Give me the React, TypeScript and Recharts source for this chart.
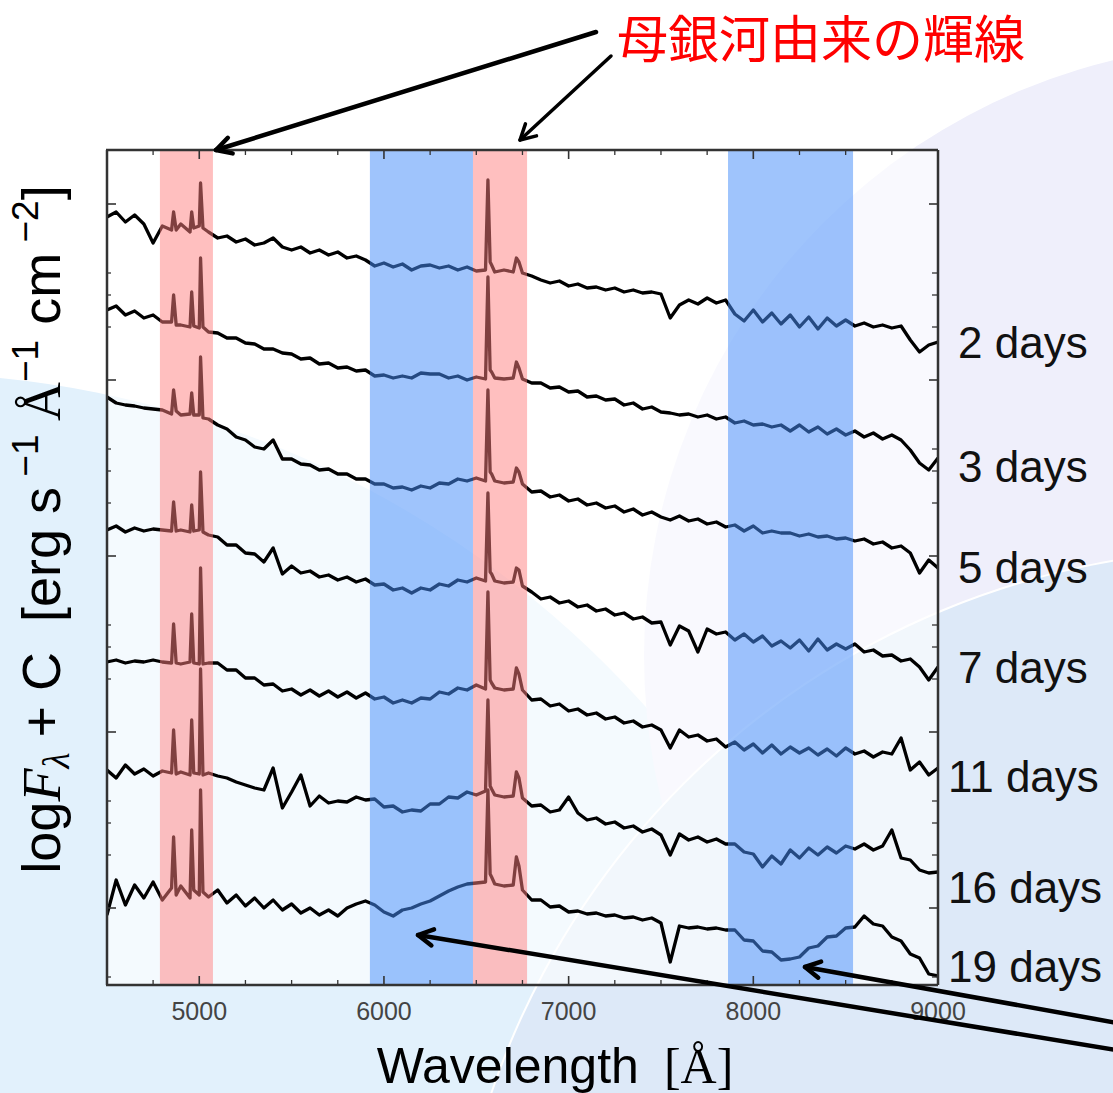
import React from 'react';
import { LineChart, Line, XAxis, YAxis, CartesianGrid, ReferenceArea, ReferenceLine, LabelList, Label } from 'recharts';

// wavelength grid (Å) — extra points sit on the host-galaxy emission lines
const WAVELENGTH = [
  4500, 4550, 4600, 4650, 4700, 4750, 4800, 4850, 4861, 4875, 4900, 4950, 4959, 4970, 5000, 5007, 5020, 5050,
  5100, 5150, 5200, 5250, 5300, 5350, 5400, 5450, 5500, 5550, 5600, 5650, 5700, 5750, 5800, 5850, 5900, 5950,
  6000, 6050, 6100, 6150, 6200, 6250, 6300, 6350, 6400, 6450, 6500, 6550,
  6563, 6575, 6583, 6600, 6650, 6700, 6717, 6731,
  6750, 6800, 6850, 6900, 6950, 7000, 7050, 7100, 7150, 7200, 7250, 7300, 7350, 7400, 7450, 7500, 7550, 7600,
  7650, 7700, 7750, 7800, 7850, 7900, 7950, 8000, 8050, 8100, 8150, 8200, 8250, 8300, 8350, 8400, 8450, 8500,
  8550, 8600, 8650, 8700, 8750, 8800, 8850, 8900, 8950, 9000,
];

// log F_lambda + C, arbitrary offset units, one spectrum per epoch
const FLUX_2D = [
  783, 788, 778, 785, 776, 757, 774, 770, 788, 770, 776, 768, 788, 772, 774, 817, 772, 768,
  762, 764, 758, 761, 755, 757, 762, 753, 750, 753, 747, 750, 745, 748, 742, 744, 740, 734, 737, 733, 736, 730, 734, 735, 732, 734, 730, 733, 729, 730,
  820, 738, 735, 728, 730, 728, 742, 738,
  727, 724, 720, 717, 719, 714, 716, 712, 713, 710, 712, 708, 710, 707, 708, 706, 682, 695, 700, 696, 702, 697, 700, 686,
  679, 690, 678, 687, 676, 685, 673, 683, 671, 682, 674, 680, 674, 677, 673, 675, 672, 674, 660, 648, 655, 658,
];
const FLUX_3D = [
  690, 694, 685, 689, 682, 685, 678, 678, 705, 675, 675, 673, 708, 674, 672, 742, 673, 668,
  667, 662, 662, 657, 656, 651, 651, 647, 646, 641, 642, 636, 637, 632, 633, 629, 630, 624, 625, 622, 624, 622, 627, 626, 626, 622, 624, 620, 623, 621,
  723, 630, 628, 622, 621, 622, 638, 632,
  621, 617, 617, 612, 613, 608, 609, 603, 604, 600, 601, 595, 597, 591, 593, 588, 587, 585, 586, 583, 585, 581, 583, 577,
  579, 575, 576, 573, 575, 569, 575, 568, 573, 566, 571, 565, 569, 563, 567, 561, 565, 560, 550, 537, 530, 542,
];
const FLUX_5D = [
  603, 597, 595, 594, 592, 591, 590, 586, 610, 589, 585, 586, 607, 585, 585, 643, 582, 581,
  575, 571, 563, 560, 553, 551, 560, 541, 541, 536, 535, 530, 531, 526, 526, 521, 521, 516, 516, 512, 513, 510, 514, 512, 517, 516, 521, 519, 522, 519,
  610, 528, 526, 519, 517, 518, 532, 528,
  516, 508, 509, 503, 505, 499, 501, 495, 497, 492, 494, 488, 491, 485, 488, 483, 480, 484, 479, 481, 476, 478, 473, 475,
  469, 474, 467, 469, 467, 467, 464, 466, 463, 464, 461, 462, 459, 461, 456, 458, 452, 454, 447, 427, 440, 432,
];
const FLUX_7D = [
  470, 474, 468, 472, 469, 471, 470, 469, 498, 469, 470, 468, 495, 469, 470, 528, 468, 465,
  463, 455, 455, 447, 446, 438, 452, 426, 434, 427, 429, 423, 425, 420, 423, 418, 421, 415, 416, 410, 412, 407, 412, 410, 416, 414, 420, 418, 422, 419,
  507, 428, 426, 419, 417, 418, 432, 430,
  414, 408, 401, 403, 397, 399, 393, 395, 389, 391, 385, 387, 381, 383, 377, 378, 355, 374, 369, 348, 371, 366, 368, 360,
  366, 358, 364, 354, 359, 352, 360, 349, 361, 350, 356, 351, 356, 348, 350, 344, 345, 339, 341, 333, 320, 333,
];
const FLUX_11D = [
  338, 340, 337, 339, 338, 340, 338, 337, 376, 337, 336, 338, 386, 337, 336, 432, 336, 337,
  337, 330, 330, 322, 322, 315, 316, 309, 311, 305, 310, 304, 309, 303, 308, 302, 307, 301, 303, 297, 300, 297, 302, 301, 308, 306, 312, 310, 315, 311,
  408, 320, 317, 312, 310, 311, 332, 326,
  310, 300, 301, 294, 296, 289, 291, 285, 287, 281, 283, 277, 279, 273, 275, 270, 252, 270, 263, 265, 259, 261, 253, 258,
  250, 256, 247, 255, 246, 253, 247, 252, 245, 251, 244, 252, 246, 249, 243, 248, 246, 262, 230, 238, 225, 232,
];
const FLUX_16D = [
  230, 222, 235, 226, 231, 224, 229, 227, 270, 226, 228, 225, 280, 227, 226, 331, 225, 227,
  224, 222, 218, 215, 212, 210, 232, 192, 208, 225, 194, 204, 197, 199, 198, 203, 200, 201, 193, 194, 188, 190, 189, 196, 196, 203, 202, 208, 205, 209,
  300, 214, 211, 205, 203, 204, 228, 222,
  202, 194, 195, 188, 190, 203, 187, 180, 182, 176, 178, 172, 174, 168, 171, 165, 145, 166, 160, 163, 158, 161, 156, 156,
  148, 146, 133, 144, 136, 150, 142, 152, 145, 153, 147, 154, 151, 156, 150, 154, 170, 142, 140, 130, 127, 128,
];
const FLUX_19D = [
  85, 120, 95, 115, 102, 118, 100, 112, 163, 105, 114, 102, 170, 110, 105, 210, 108, 103,
  110, 97, 105, 94, 102, 92, 100, 90, 96, 87, 92, 85, 90, 84, 92, 96, 99, 95, 88, 84, 90, 92, 96, 99, 104, 109, 113, 116, 117, 118,
  210, 126, 123, 116, 114, 115, 143, 134,
  110, 100, 100, 93, 94, 88, 89, 86, 87, 84, 85, 82, 83, 80, 82, 77, 38, 74, 72, 73, 71, 72, 70, 70,
  60, 59, 49, 48, 40, 41, 43, 52, 54, 63, 64, 72, 73, 84, 76, 74, 63, 59, 46, 42, 26, 24,
];

const SERIES = [
  { key: 'd2', label: '2 days', values: FLUX_2D },
  { key: 'd3', label: '3 days', values: FLUX_3D },
  { key: 'd5', label: '5 days', values: FLUX_5D },
  { key: 'd7', label: '7 days', values: FLUX_7D },
  { key: 'd11', label: '11 days', values: FLUX_11D },
  { key: 'd16', label: '16 days', values: FLUX_16D },
  { key: 'd19', label: '19 days', values: FLUX_19D },
];

// shaded wavelength windows
const RED_BANDS = [[4787, 5074], [6482, 6775]];
const BLUE_BANDS = [[5924, 6482], [7863, 8540]];

const X_MAJOR = [5000, 6000, 7000, 8000, 9000];
const X_MINOR = [4750, 5250, 5500, 5750, 6250, 6500, 6750, 7250, 7500, 7750, 8250, 8500, 8750];
const Y_MAJOR = [796, 620, 444, 268, 92];
const Y_MINOR = [727, 705, 673, 551, 529, 497, 375, 353, 321, 199, 177, 145, 23];

// label nudges (dx, dy) from each spectrum's last point
const LABEL_NUDGE = [[20, 16], [20, 24], [20, 15], [20, 16], [10, 24], [10, 31], [10, 6]];

const data = WAVELENGTH.map((wl, i) => {
  const row: Record<string, number> = { wl };
  SERIES.forEach((s) => { row[s.key] = s.values[i]; });
  return row;
});

const SANS = '"Liberation Sans", Arial, Helvetica, sans-serif';
const SERIF = '"Liberation Serif", "Times New Roman", serif';
const AXIS = '#333';
const X_DOMAIN = [4495, 9000];
const Y_DOMAIN = [15, 850];

const endLabel = (k: number) => (props: any) => {
  if (props.index !== WAVELENGTH.length - 1) return null;
  const x = props.x ?? props.viewBox?.x;
  const y = props.y ?? props.viewBox?.y;
  const [dx, dy] = LABEL_NUDGE[k];
  return (
    <text x={x + dx} y={y + dy} fontSize={44} fill="#111" fontFamily={SANS}>
      {SERIES[k].label}
    </text>
  );
};

const XTitle = (props: any) => {
  const vb = props.viewBox;
  return (
    <text x={vb.x + vb.width / 2 + 33} y={vb.y + 98} textAnchor="middle" fontSize={50} fill="#000" fontFamily={SANS}>
      <tspan>Wavelength</tspan>
      <tspan fontFamily={SERIF}>{'\u00a0\u00a0[Å]'}</tspan>
    </text>
  );
};

const YTitle = (props: any) => {
  const vb = props.viewBox;
  const cx = 60;
  const cy = vb.y + vb.height / 2 - 38;
  return (
    <text transform={`rotate(-90 ${cx} ${cy})`} x={cx} y={cy} textAnchor="middle" fontSize={54} fill="#000" fontFamily={SANS}>
      <tspan>log</tspan>
      <tspan fontFamily={SERIF} fontStyle="italic">F</tspan>
      <tspan fontFamily={SERIF} fontStyle="italic" fontSize={37} dy={9}>λ</tspan>
      <tspan dy={-9}>{'\u00a0+ C\u00a0\u00a0[erg s'}</tspan>
      <tspan fontSize={37} dy={-22}>{'\u00a0−1'}</tspan>
      <tspan dy={22} fontFamily={SERIF}>{'\u00a0Å'}</tspan>
      <tspan fontSize={37} dy={-22}>−1</tspan>
      <tspan dy={22}>{'\u00a0cm'}</tspan>
      <tspan fontSize={37} dy={-22}>{'\u00a0−2'}</tspan>
      <tspan dy={22}>]</tspan>
    </text>
  );
};

// annotation arrows (page pixels)
const ARROWS = [
  { from: [596, 32], to: [216, 150], w: 4.5 },
  { from: [611, 56], to: [520, 140], w: 3.5 },
  { from: [1140, 1054], to: [418, 935], w: 4.5 },
  { from: [1140, 1027], to: [805, 967], w: 4.5 },
];

const arrowHead = (from: number[], to: number[], len = 17, ang = 0.5) => {
  const a = Math.atan2(from[1] - to[1], from[0] - to[0]);
  const p1 = [to[0] + len * Math.cos(a + ang), to[1] + len * Math.sin(a + ang)];
  const p2 = [to[0] + len * Math.cos(a - ang), to[1] + len * Math.sin(a - ang)];
  return `M${p1[0]},${p1[1]} L${to[0]},${to[1]} L${p2[0]},${p2[1]}`;
};

const circle = (cx: number, cy: number, r: number, bg: string, extra: React.CSSProperties = {}) => (
  <div style={{ position: 'absolute', left: cx - r, top: cy - r, width: 2 * r, height: 2 * r, borderRadius: '50%', background: bg, ...extra }} />
);

// frame axes: tick marks only, pointing into the plot
const noLabel = () => '';
const tickAxis = {
  tick: { fontSize: 1, fill: 'none' },
  tickFormatter: noLabel,
  interval: 0 as const,
  allowDataOverflow: true,
  mirror: true,
  type: 'number' as const,
};
const majorLine = { stroke: AXIS, strokeWidth: 1.6 };
const minorLine = { stroke: AXIS, strokeWidth: 1.3 };
const frameLine = { stroke: AXIS, strokeWidth: 2.5 };

// inward x tick marks on the top and bottom frame (length in y units, 1 unit ≈ 1 px)
const xTickMarks = [
  ...X_MAJOR.map((t) => ({ t, len: 9, w: 1.6 })),
  ...X_MINOR.map((t) => ({ t, len: 5, w: 1.3 })),
];

export default function App() {
  return (
    <div style={{ position: 'absolute', left: 0, top: 0, width: 1113, height: 1093, overflow: 'hidden', background: '#fff', fontFamily: SANS }}>
      {circle(-100, 1373, 1000, '#e2f1fc')}
      {circle(1257, 656, 613, '#efeffb')}
      {circle(1250, 1350, 800, '#dde9f8', { boxShadow: '0 0 0 2px #fff' })}

      <div style={{ position: 'absolute', left: 0, top: 0 }}>
        <LineChart width={1113} height={1093} data={data} margin={{ top: 150, right: 175, bottom: 78, left: 106 }}>
          <CartesianGrid xAxisId="main" yAxisId="main" horizontal={false} vertical={false} fill="#ffffff" fillOpacity={0.62} />

          <XAxis xAxisId="main" dataKey="wl" type="number" domain={X_DOMAIN} allowDataOverflow ticks={X_MAJOR} interval={0}
            height={30} axisLine={false} tickLine={false} tickSize={0} tickMargin={17}
            tick={{ fill: '#444', fontSize: 25, fontFamily: SANS }}>
            <Label content={XTitle} />
          </XAxis>
          <XAxis xAxisId="bMaj" {...tickAxis} domain={X_DOMAIN} ticks={X_MAJOR} height={1} orientation="bottom"
            tickSize={9} tickLine={majorLine} axisLine={frameLine} />
          <XAxis xAxisId="tMaj" {...tickAxis} domain={X_DOMAIN} ticks={X_MAJOR} height={1} orientation="top"
            tickSize={9} tickLine={majorLine} axisLine={frameLine} />

          <YAxis yAxisId="main" {...tickAxis} domain={Y_DOMAIN} ticks={Y_MAJOR} width={1} orientation="left"
            tickSize={9} tickLine={majorLine} axisLine={frameLine}>
            <Label content={YTitle} />
          </YAxis>
          <YAxis yAxisId="lMin" {...tickAxis} domain={Y_DOMAIN} ticks={Y_MINOR} width={1} orientation="left"
            tickSize={5} tickLine={minorLine} axisLine={false} />
          <YAxis yAxisId="rMaj" {...tickAxis} domain={Y_DOMAIN} ticks={Y_MAJOR} width={1} orientation="right"
            tickSize={9} tickLine={majorLine} axisLine={frameLine} />
          <YAxis yAxisId="rMin" {...tickAxis} domain={Y_DOMAIN} ticks={Y_MINOR} width={1} orientation="right"
            tickSize={5} tickLine={minorLine} axisLine={false} />

          {SERIES.map((s, k) => (
            <Line key={s.key} xAxisId="main" yAxisId="main" dataKey={s.key} type="linear" stroke="#000" strokeWidth={3.3}
              strokeLinejoin="round" dot={false} activeDot={false} isAnimationActive={false}>
              <LabelList dataKey={s.key} content={endLabel(k)} />
            </Line>
          ))}

          {RED_BANDS.map(([a, b]) => (
            <ReferenceArea key={`r${a}`} xAxisId="main" yAxisId="main" x1={a} x2={b} fill="#ff8080" fillOpacity={0.5}
              stroke="none" zIndex={450} />
          ))}
          {BLUE_BANDS.map(([a, b]) => (
            <ReferenceArea key={`b${a}`} xAxisId="main" yAxisId="main" x1={a} x2={b} fill="#468ef9" fillOpacity={0.52}
              stroke="none" zIndex={450} />
          ))}

          {xTickMarks.map(({ t, len, w }) => (
            <ReferenceLine key={`bt${t}`} xAxisId="main" yAxisId="main" ifOverflow="visible" zIndex={520}
              segment={[{ x: t, y: Y_DOMAIN[0] }, { x: t, y: Y_DOMAIN[0] + len }]} stroke={AXIS} strokeWidth={w} />
          ))}
          {xTickMarks.map(({ t, len, w }) => (
            <ReferenceLine key={`tt${t}`} xAxisId="main" yAxisId="main" ifOverflow="visible" zIndex={520}
              segment={[{ x: t, y: Y_DOMAIN[1] }, { x: t, y: Y_DOMAIN[1] - len }]} stroke={AXIS} strokeWidth={w} />
          ))}
        </LineChart>
      </div>

      <svg width={1113} height={1093} style={{ position: 'absolute', left: 0, top: 0, pointerEvents: 'none' }}>
        <text x={617} y={58} fontSize={51} fill="#ff0000" fontFamily='"Noto Sans CJK JP", sans-serif'>母銀河由来の輝線</text>
        {ARROWS.map((a, i) => (
          <g key={i} stroke="#000" strokeWidth={a.w} fill="none" strokeLinecap="round" strokeLinejoin="round">
            <line x1={a.from[0]} y1={a.from[1]} x2={a.to[0]} y2={a.to[1]} />
            <path d={arrowHead(a.from, a.to)} />
          </g>
        ))}
      </svg>
    </div>
  );
}
